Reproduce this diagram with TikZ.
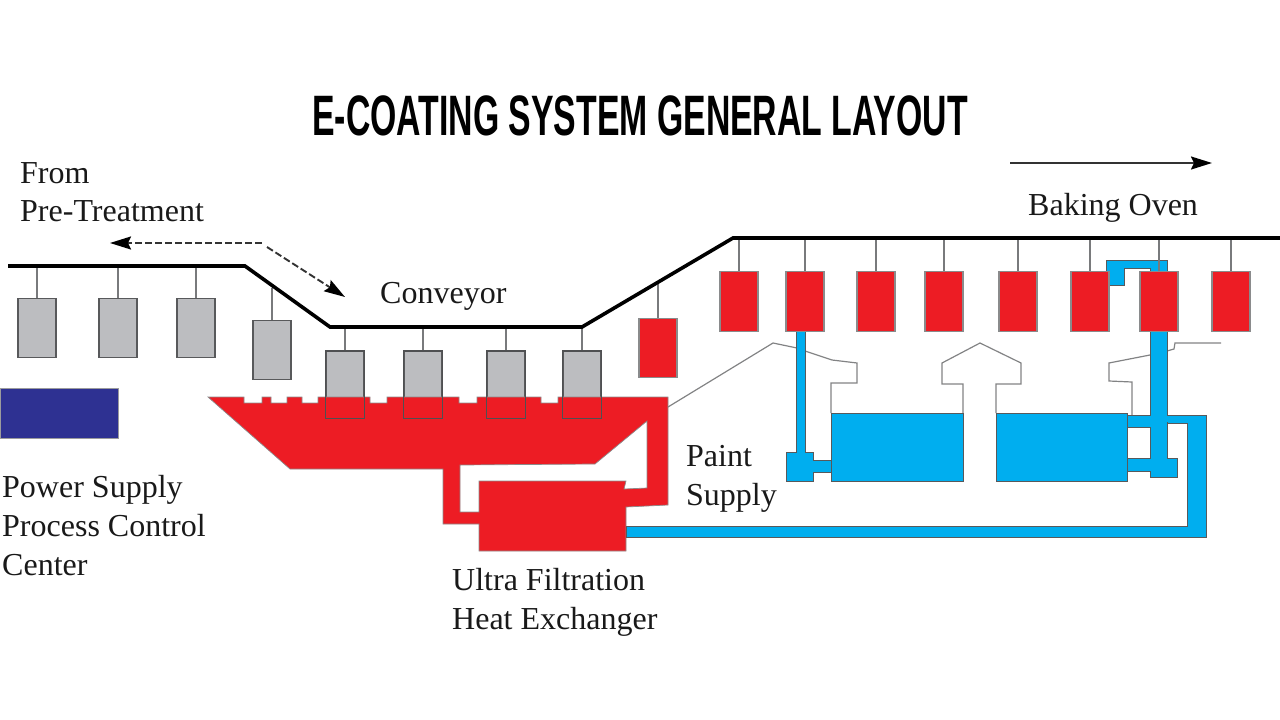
\documentclass[tikz,border=0pt]{standalone}
\usepackage{fontspec}
\usetikzlibrary{arrows.meta}
\newfontfamily\titlefont{Liberation Sans}
\newfontfamily\tagfont{Liberation Serif}
\definecolor{tankred}{HTML}{ED1C24}
\definecolor{paintblue}{HTML}{00AEEF}
\definecolor{partgray}{HTML}{BCBDC0}
\definecolor{panelblue}{HTML}{2E3192}
\definecolor{edgegray}{HTML}{58595B}
\tikzset{
	rail/.style={line width=3.6pt, line join=miter, black},
	hanger/.style={line width=1.2pt, edgegray!80},
	carrier/.style={draw=edgegray, line width=1.2pt, minimum width=38pt, minimum height=59pt, inner sep=0pt, anchor=north},
	graycarrier/.style={carrier, fill=partgray},
	redcarrier/.style={carrier, fill=tankred, draw=edgegray!70},
	duct/.style={line width=1.2pt, edgegray!75, line join=miter},
	bluepart/.style={fill=paintblue, draw=edgegray, line width=0.9pt},
	tag/.style={anchor=base west, inner sep=0pt, font=\tagfont\fontsize{32}{32}\selectfont, black!90},
	flow/.style={line width=1.9pt, black!80, -{Stealth[length=21pt, width=13pt, inset=3pt, black]}},
}
\begin{document}
\begin{tikzpicture}[x=1pt, y=-1pt]
	\useasboundingbox (0,0) rectangle (1280,720);
	\node[anchor=base, inner sep=0pt, xscale=0.593, font=\titlefont\bfseries\fontsize{57}{57}\selectfont] (title) at (640,135) {E-COATING SYSTEM GENERAL LAYOUT};

	% === conveyor ===
	\coordinate (railA) at (8,266);
	\coordinate (railB) at (245,266);
	\coordinate (railC) at (330,327);
	\coordinate (railD) at (582,327);
	\coordinate (railE) at (733,238);
	\coordinate (railF) at (1280,238);

	% hangers and carriers before the tank
	\foreach \x/\y/\t [count=\i] in {37/298/266, 118/298/266, 196/298/266, 272/320/288, 345/351/327, 423/351/327, 506/351/327, 582/351/327} {
		\node[graycarrier] (gray\i) at (\x,\y) {};
		\coordinate (top\i) at (\x,\t);
		\draw[hanger] (top\i) -- (gray\i.north);
	}
	\foreach \i in {5,...,8} {
		\node[graycarrier, minimum height=66pt] (dip\i) at (gray\i.north) {};
	}

	% === paint tank with the ultra filtration loop ===
	\fill[tankred, draw=edgegray!70, line width=0.7pt, even odd rule]
		(208,397) -- (244,397) -- (244,403) -- (262,403) -- (262,397) -- (271,397) -- (271,403) -- (287,403)
		-- (287,397) -- (302,397) -- (302,403) -- (318,403) -- (318,397) -- (370,397) -- (370,403) -- (387,403)
		-- (387,397) -- (459,397) -- (459,403) -- (477,403) -- (477,397) -- (541,397) -- (541,403) -- (558,403)
		-- (558,397) -- (668,397) -- (668,505) -- (626,507) -- (626,551) -- (479,551) -- (479,524) -- (443,524)
		-- (443,469) -- (290,469) -- cycle
		(460,465) -- (595,464) -- (647,421) -- (647,488) -- (624,489) -- (626,481) -- (479,481) -- (479,512) -- (460,512) -- cycle;
	\foreach \i in {5,...,8} {
		\draw[edgegray!90!black, line width=1.2pt] (dip\i.north west) rectangle (dip\i.south east);
	}

	% === oven duct ===
	\draw[duct] (668,407) -- (773,343) -- (797,348) -- (805,351) -- (832,360) -- (857,363) -- (857,383) -- (831,383) -- (831,413);
	\draw[duct] (963,413) -- (963,384) -- (942,384) -- (942,363) -- (980,343) -- (1021,363) -- (1021,384) -- (996,384) -- (996,413);
	\draw[duct] (1132,415) -- (1132,382) -- (1109,381) -- (1109,363) -- (1150,355);
	\draw[duct] (1167,351) -- (1174,349) -- (1175,343) -- (1221,343);

	% === paint supply ===
	\draw[bluepart] (831,413) rectangle (963,481);
	\draw[bluepart] (996,413) rectangle (1127,481);
	% left pump
	\draw[bluepart] (796,331) -- (805,331) -- (805,452) -- (813,452) -- (813,460) -- (831,460) -- (831,472) -- (813,472) -- (813,481) -- (786,481) -- (786,452) -- (796,452) -- cycle;
	% return line
	\draw[bluepart] (626,526) -- (1187,526) -- (1187,423) -- (1167,423) -- (1167,415) -- (1206,415) -- (1206,537) -- (626,537) -- cycle;
	% right pump
	\draw[bluepart] (1150,331) -- (1167,331) -- (1167,458) -- (1177,458) -- (1177,477) -- (1150,477) -- (1150,471) -- (1127,471) -- (1127,458) -- (1150,458) -- (1150,427) -- (1127,427) -- (1127,415) -- (1150,415) -- cycle;
	\fill[paintblue] (1160,416) rectangle (1170,422);
	% top crossover
	\draw[bluepart] (1106,260) -- (1167,260) -- (1167,275) -- (1150,275) -- (1150,268) -- (1124,268) -- (1124,285) -- (1106,285) -- cycle;

	% === red carriers ===
	\foreach \x/\t [count=\i] in {739/238, 805/238, 876/238, 944/238, 1018/238, 1090/238, 1159/238, 1231/238} {
		\node[redcarrier, minimum height=60pt] (red\i) at (\x,271) {};
		\coordinate (redtop\i) at (\x,\t);
		\draw[hanger] (redtop\i) -- (red\i.north);
	}
	\node[redcarrier] (redlow) at (658,318) {};
	\coordinate (redlowtop) at (658,282);
	\draw[hanger] (redlowtop) -- (redlow.north);

	\draw[rail] (railA) -- (railB) -- (railC) -- (railD) -- (railE) -- (railF);

	% === power supply ===
	\node[fill=panelblue, draw=edgegray!60, minimum width=118pt, minimum height=50pt, inner sep=0pt, anchor=north west] (panel) at (0,388) {};

	% === direction arrows ===
	\coordinate (bendA) at (262,243);
	\coordinate (endA) at (110,243);
	\coordinate (bendB) at (267,247);
	\coordinate (endB) at (345,297);
	\draw[flow, dash pattern=on 7pt off 3pt] (bendA) -- (endA);
	\draw[flow, dash pattern=on 7pt off 3pt] (bendB) -- (endB);
	\coordinate (ovenA) at (1010,163);
	\coordinate (ovenB) at (1212,163);
	\draw[flow] (ovenA) -- (ovenB);

	% === labels ===
	\node[tag] (from) at (20,183) {From};
	\node[tag] (pretreat) at (20,221) {Pre-Treatment};
	\node[tag] (oven) at (1028,215) {Baking Oven};
	\node[tag] (conveyor) at (380,303) {Conveyor};
	\node[tag] (paint) at (686,466) {Paint};
	\node[tag] (supply) at (686,505) {Supply};
	\node[tag] (power) at (2,497) {Power Supply};
	\node[tag] (process) at (2,536) {Process Control};
	\node[tag] (center) at (2,575) {Center};
	\node[tag] (ultra) at (452,590) {Ultra Filtration};
	\node[tag] (heat) at (452,629) {Heat Exchanger};
\end{tikzpicture}
\end{document}
